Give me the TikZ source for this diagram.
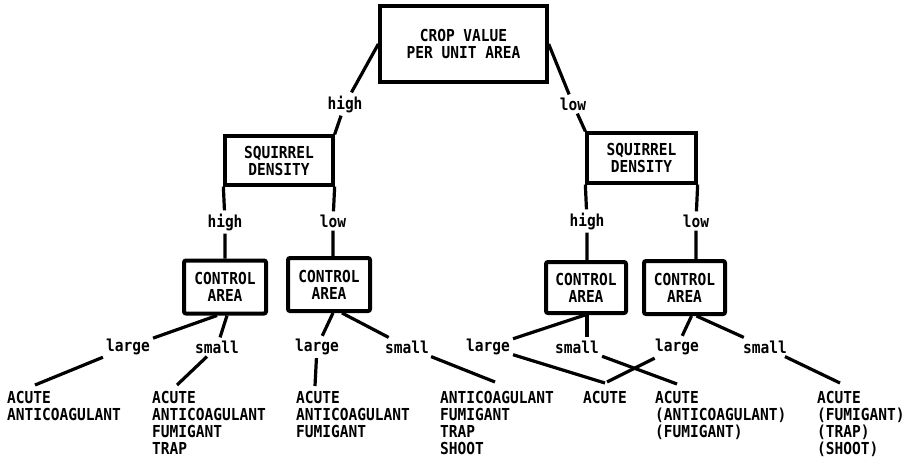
\documentclass[tikz,border=0pt]{standalone}
\usepackage{fontspec}
\setmonofont[FakeStretch=0.88]{DejaVu Sans Mono}

\begin{document}
\begin{tikzpicture}[
  x=1pt, y=-1pt,
  txt/.style={font={\ttfamily\bfseries\fontsize{16.5}{17}\selectfont}},
  box/.style={txt, draw, line width=3.3pt, align=center, inner sep=0pt},
  ctrl/.style={box, line width=4pt, rounded corners=2pt, minimum width=82pt, minimum height=53pt},
  lbl/.style={txt, inner sep=3pt},
  leaf/.style={txt, align=left, anchor=north west, inner sep=0pt},
  con/.style={line width=3.2pt}
]
\useasboundingbox (0,0) rectangle (911,466);

% decision boxes
\node[box, minimum width=167pt, minimum height=76pt] (crop_root) at (463.5,44) {CROP VALUE\\PER UNIT AREA};
\node[box, minimum width=108pt, minimum height=49pt] (sq_hi) at (279,160.5) {SQUIRREL\\DENSITY};
\node[box, minimum width=109pt, minimum height=50pt] (sq_lo) at (641.5,158) {SQUIRREL\\DENSITY};
\node[ctrl] (ca_hh) at (225,287) {CONTROL\\AREA};
\node[ctrl] (ca_hl) at (329,284.5) {CONTROL\\AREA};
\node[ctrl, minimum width=80pt, minimum height=51pt] (ca_lh) at (586,287.5) {CONTROL\\AREA};
\node[ctrl, minimum width=81pt] (ca_ll) at (684.5,287.5) {CONTROL\\AREA};

% branch labels
\node[lbl] (lb_hi) at (345,104) {high};
\node[lbl] (lb_lo) at (573,104) {low};
\node[lbl] (lb_hh) at (225,222) {high};
\node[lbl] (lb_hl) at (333,221) {low};
\node[lbl] (lb_lh) at (587,221) {high};
\node[lbl] (lb_ll) at (696,221) {low};
\node[lbl] (lb_hh_lg) at (128,347) {large};
\node[lbl] (lb_hh_sm) at (217,347) {small};
\node[lbl] (lb_hl_lg) at (317,347) {large};
\node[lbl] (lb_hl_sm) at (407,347) {small};
\node[lbl] (lb_lh_lg) at (488,347) {large};
\node[lbl] (lb_lh_sm) at (577,347) {small};
\node[lbl] (lb_ll_lg) at (677,347) {large};
\node[lbl] (lb_ll_sm) at (765,347) {small};

% control methods
\node[leaf] (leaf_a) at (7,391) {ACUTE\\ANTICOAGULANT};
\node[leaf] (leaf_b) at (152,391) {ACUTE\\ANTICOAGULANT\\FUMIGANT\\TRAP};
\node[leaf] (leaf_c) at (296,391) {ACUTE\\ANTICOAGULANT\\FUMIGANT};
\node[leaf] (leaf_d) at (440,391) {ANTICOAGULANT\\FUMIGANT\\TRAP\\SHOOT};
\node[leaf] (leaf_e) at (583,391) {ACUTE};
\node[leaf] (leaf_f) at (655,391) {ACUTE\\(ANTICOAGULANT)\\(FUMIGANT)};
\node[leaf] (leaf_g) at (817,391) {ACUTE\\(FUMIGANT)\\(TRAP)\\(SHOOT)};

% crop value
\draw[con] (crop_root.west) -- (lb_hi) -- (sq_hi.north east);
\draw[con] (crop_root.east) -- (lb_lo) -- (sq_lo.north west);

% squirrel density
\draw[con] (sq_hi.south west) -- (lb_hh) -- (lb_hh |- ca_hh.north);
\draw[con] (sq_hi.south east) -- (lb_hl) -- (lb_hl |- ca_hl.north);
\draw[con] (sq_lo.south west) -- (lb_lh) -- (lb_lh |- ca_lh.north);
\draw[con] (sq_lo.south east) -- (lb_ll) -- (lb_ll |- ca_ll.north);

% control area
\draw[con] ([xshift=-8pt]ca_hh.south) -- (lb_hh_lg) -- ([xshift=28pt,yshift=6pt]leaf_a.north west);
\draw[con] ([xshift=2pt]ca_hh.south) -- (lb_hh_sm) -- ([xshift=25pt,yshift=6pt]leaf_b.north west);
\draw[con] ([xshift=4pt]ca_hl.south) -- (lb_hl_lg) -- ([xshift=19pt,yshift=5pt]leaf_c.north west);
\draw[con] ([xshift=13pt]ca_hl.south) -- (lb_hl_sm) -- ([xshift=55pt,yshift=9pt]leaf_d.north west);
\draw[con] ([xshift=-1pt]ca_lh.south) -- (lb_lh_lg) -- ([xshift=22pt,yshift=8pt]leaf_e.north west);
\draw[con] ([xshift=1pt]ca_lh.south) -- ([xshift=1pt]ca_lh.south |- lb_lh_sm.north);
\draw[con] (lb_lh_sm) -- ([xshift=22pt,yshift=7pt]leaf_f.north west);
\draw[con] ([xshift=7pt]ca_ll.south) -- (lb_ll_lg) -- ([xshift=24pt,yshift=9pt]leaf_e.north west);
\draw[con] ([xshift=12pt]ca_ll.south) -- (lb_ll_sm) -- ([xshift=23pt,yshift=8pt]leaf_g.north west);

\end{tikzpicture}
\end{document}
